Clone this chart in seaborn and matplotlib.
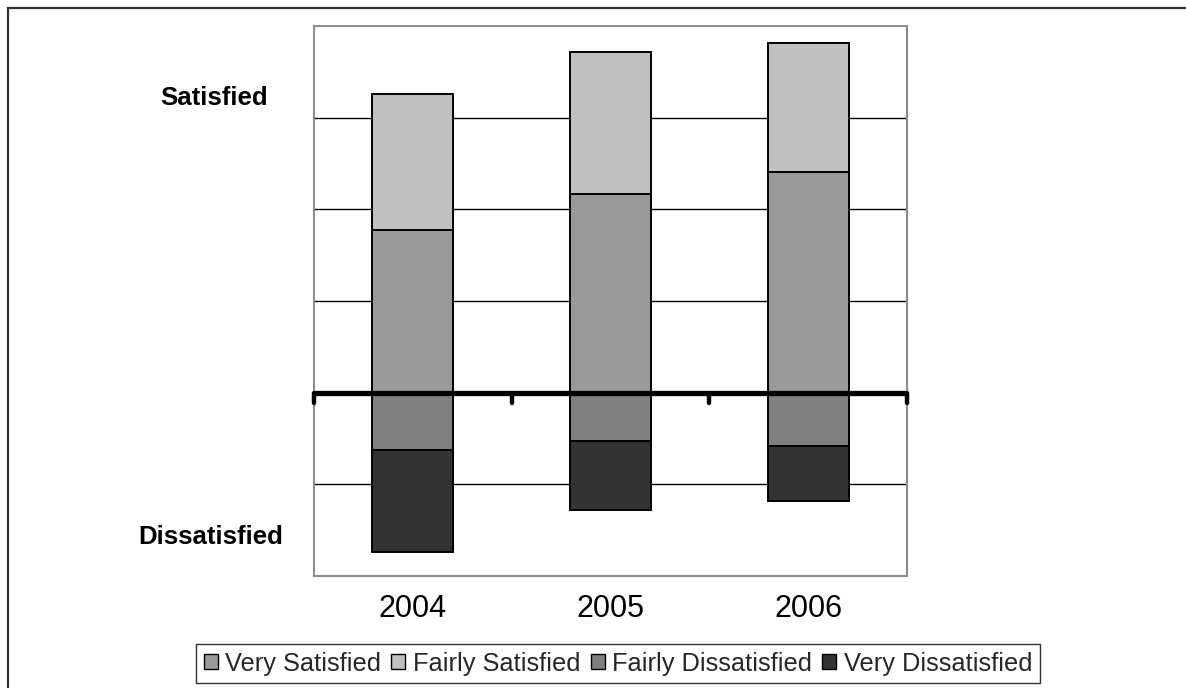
import numpy as np
import pandas as pd
import seaborn as sns
import matplotlib
matplotlib.use("Agg")
import matplotlib.pyplot as plt
from matplotlib.patches import Rectangle, Patch

# Survey results per year (percent of respondents)
years = ["2004", "2005", "2006"]
very_satisfied = [17.7, 21.7, 24.1]
fairly_satisfied = [14.9, 15.5, 14.0]
fairly_dissatisfied = [6.2, 5.3, 5.8]
very_dissatisfied = [11.2, 7.5, 6.0]

series_names = ["Very Satisfied", "Fairly Satisfied",
                "Fairly Dissatisfied", "Very Dissatisfied"]
series_colors = ["#999999", "#c0c0c0", "#808080", "#333333"]

sns.set_theme(style="white")
plt.rcParams["font.family"] = ["Liberation Sans", "DejaVu Sans"]

W, H = 1186, 688
fig = plt.figure(figsize=(W / 100, H / 100), dpi=100)
left, right, top, bottom = 314, 907, 26, 576
ax = fig.add_axes([left / W, 1 - bottom / H, (right - left) / W, (bottom - top) / H])

df = pd.DataFrame({
    "year": years,
    "vs": very_satisfied,
    "fs": fairly_satisfied,
    "fd": fairly_dissatisfied,
    "vd": very_dissatisfied,
})
df["fd_neg"] = -df["fd"]
df["vd_neg"] = -df["vd"]

bar_kw = dict(width=0.41, edgecolor="black", linewidth=1.4, zorder=3)

# Positive side: satisfied responses stacked upward from zero
sns.barplot(data=df, x="year", y="vs", color=series_colors[0], ax=ax,
            saturation=1, **bar_kw)
sns.barplot(data=df, x="year", y="fs", bottom=df["vs"], color=series_colors[1],
            ax=ax, saturation=1, **bar_kw)
# Negative side: dissatisfied responses stacked downward from zero
sns.barplot(data=df, x="year", y="fd_neg", color=series_colors[2], ax=ax,
            saturation=1, **bar_kw)
sns.barplot(data=df, x="year", y="vd_neg", bottom=df["fd_neg"],
            color=series_colors[3], ax=ax, saturation=1, **bar_kw)

ax.set_xlim(-0.5, len(years) - 0.5)
ax.set_ylim(-20, 40)

# Horizontal gridlines behind the bars
for gy in [-10, 10, 20, 30]:
    ax.axhline(gy, color="black", lw=1.0, zorder=1)

# Heavy zero baseline with category separator ticks
ax.axhline(0, color="black", lw=3.8, zorder=5, solid_capstyle="round")
for tx in np.arange(-0.5, len(years), 1.0):
    ax.plot([tx, tx], [0, -1.1], color="black", lw=3.2,
            solid_capstyle="round", zorder=5, clip_on=False)

for sp in ax.spines.values():
    sp.set_visible(True)
    sp.set_color("#8c8c8c")
    sp.set_linewidth(1.5)

ax.set_yticks([])
ax.set_xlabel("")
ax.set_ylabel("")
ax.tick_params(axis="x", length=0, pad=13, labelsize=22, labelcolor="black")

# Side labels for the two halves of the scale
fig.text(214 / W, 1 - 98 / H, "Satisfied", ha="center", va="center",
         fontsize=18.5, fontweight="bold", color="black")
fig.text(211 / W, 1 - 537 / H, "Dissatisfied", ha="center", va="center",
         fontsize=18.5, fontweight="bold", color="black")

handles = [Patch(facecolor=c, edgecolor="black", linewidth=1.0)
           for c in series_colors]
leg = fig.legend(handles, series_names, loc="center",
                 bbox_to_anchor=(618 / W, 1 - 663.5 / H), ncol=4,
                 frameon=True, fancybox=False, fontsize=18.3,
                 handlelength=0.55, handleheight=0.55, handletextpad=0.3,
                 columnspacing=0.4, borderpad=0.3, borderaxespad=0)
leg.get_frame().set_edgecolor("black")
leg.get_frame().set_linewidth(1.0)

# Outer chart frame
fig.patches.append(Rectangle((8 / W, -0.1), 1.2, 1 - 8 / H + 0.1,
                             transform=fig.transFigure, fill=False,
                             edgecolor="#333333", linewidth=1.6))

fig.savefig("out.png", dpi=100, facecolor="white")
